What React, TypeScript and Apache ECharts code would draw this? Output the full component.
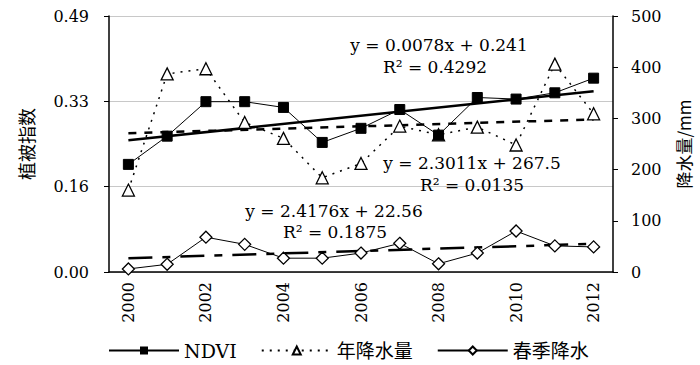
import React, { useEffect, useRef } from "react";
import * as echarts from "echarts";

const years = ["2000", "2001", "2002", "2003", "2004", "2005", "2006", "2007", "2008", "2009", "2010", "2011", "2012"];
const ndvi = [0.206, 0.26, 0.326, 0.326, 0.315, 0.248, 0.275, 0.311, 0.262, 0.334, 0.331, 0.343, 0.371];
const annualPrecip = [160, 387, 397, 292, 261, 184, 212, 285, 268, 283, 248, 406, 309];
const springPrecip = [6, 15, 68, 54, 27, 27, 37, 56, 16, 37, 80, 51, 49];

// trend line end values (first and last year)
const ndviTrendEnds = [0.252, 0.346];
const annualTrendEnds = [271, 298];
const springTrendEnds = [27, 55];

const leftTicks = [0, 0.49];
const rightTicks = [0, 500, 100];

const equations = [
  "y = 0.0078x + 0.241",
  "R² = 0.4292",
  "y = 2.3011x + 267.5",
  "R² = 0.0135",
  "y = 2.4176x + 22.56",
  "R² = 0.1875",
];

const serif = "'DejaVu Serif', 'Noto Sans CJK SC', serif";

function ends(e: number[]) {
  return years.map((_, i) => (i === 0 ? e[0] : i === years.length - 1 ? e[1] : null));
}

export default function App() {
  const ref = useRef<HTMLDivElement>(null);
  useEffect(() => {
    document.body.style.margin = "0";
    const chart = echarts.init(ref.current!, null, { renderer: "svg" });
    const eqPos = [
      [439, 45],
      [435, 67],
      [472, 163],
      [472, 185],
      [334, 211],
      [335, 232],
    ];
    chart.setOption({
      animation: false,
      backgroundColor: "#fff",
      grid: { left: 109, right: 83, top: 16, bottom: 93 },
      legend: {
        data: ["NDVI", "年降水量", "春季降水"],
        left: 108,
        top: 341,
        padding: 0,
        itemWidth: 70,
        itemHeight: 10,
        itemGap: 24,
        textStyle: { fontFamily: serif, fontSize: 19, color: "#000" },
      },
      xAxis: {
        type: "category",
        data: years,
        boundaryGap: true,
        axisLine: { lineStyle: { color: "#000", width: 1.5 } },
        axisTick: { inside: true, length: 5, interval: 0, lineStyle: { color: "#000" } },
        axisLabel: { interval: 1, rotate: 90, margin: 10, fontFamily: serif, fontSize: 16, color: "#000" },
        splitLine: { show: false },
      },
      yAxis: [
        {
          type: "value",
          min: leftTicks[0],
          max: leftTicks[1],
          interval: leftTicks[1] / 3,
          name: "植被指数",
          nameLocation: "middle",
          nameRotate: 90,
          nameGap: 74,
          nameTextStyle: { fontFamily: "'Noto Sans CJK SC'", fontSize: 18, color: "#000" },
          axisLine: { show: true, lineStyle: { color: "#000", width: 1.5 } },
          axisTick: { show: true, length: 5, lineStyle: { color: "#000" } },
          axisLabel: {
            margin: 20,
            fontFamily: serif,
            fontSize: 16,
            color: "#000",
            formatter: (v: number) => v.toFixed(2),
          },
          splitLine: { show: true, lineStyle: { color: "#c8c8c8", width: 1 } },
        },
        {
          type: "value",
          min: rightTicks[0],
          max: rightTicks[1],
          interval: rightTicks[2],
          name: "降水量/mm",
          nameLocation: "middle",
          nameRotate: 90,
          nameGap: 62,
          nameTextStyle: { fontFamily: "'Noto Sans CJK SC'", fontSize: 17, color: "#000" },
          axisLine: { show: true, lineStyle: { color: "#000", width: 1.5 } },
          axisTick: { show: true, length: 5, lineStyle: { color: "#000" } },
          axisLabel: { margin: 18, fontFamily: serif, fontSize: 16, color: "#000" },
          splitLine: { show: false },
        },
      ],
      series: [
        {
          name: "NDVI",
          type: "line",
          yAxisIndex: 0,
          data: ndvi,
          symbol: "rect",
          symbolSize: 10,
          itemStyle: { color: "#000", borderColor: "#000" },
          lineStyle: { color: "#000", width: 1 },
          z: 5,
        },
        {
          name: "年降水量",
          type: "line",
          yAxisIndex: 1,
          data: annualPrecip,
          symbol: "triangle",
          symbolSize: 12,
          itemStyle: { color: "#fff", borderColor: "#000", borderWidth: 1.3 },
          lineStyle: { color: "#000", width: 1.5, type: [2, 6] },
          z: 4,
        },
        {
          name: "春季降水",
          type: "line",
          yAxisIndex: 1,
          data: springPrecip,
          symbol: "diamond",
          symbolSize: 12,
          itemStyle: { color: "#fff", borderColor: "#000", borderWidth: 1.3 },
          lineStyle: { color: "#000", width: 1 },
          z: 4,
        },
        {
          name: "NDVI趋势",
          type: "line",
          yAxisIndex: 0,
          data: ends(ndviTrendEnds),
          connectNulls: true,
          showSymbol: false,
          symbol: "none",
          lineStyle: { color: "#000", width: 2.5 },
          z: 3,
        },
        {
          name: "年降水量趋势",
          type: "line",
          yAxisIndex: 1,
          data: ends(annualTrendEnds),
          connectNulls: true,
          showSymbol: false,
          symbol: "none",
          lineStyle: { color: "#000", width: 2.5, type: [8, 8] },
          z: 3,
        },
        {
          name: "春季降水趋势",
          type: "line",
          yAxisIndex: 1,
          data: ends(springTrendEnds),
          connectNulls: true,
          showSymbol: false,
          symbol: "none",
          lineStyle: { color: "#000", width: 2.5, type: [24, 10, 8, 10] },
          z: 3,
        },
      ],
      graphic: equations.map((t, i) => ({
        type: "text",
        x: eqPos[i][0],
        y: eqPos[i][1],
        z: 10,
        style: {
          text: t,
          fontFamily: serif,
          fontSize: 17,
          fill: "#000",
          align: "center",
          verticalAlign: "middle",
        },
      })),
    });
    return () => chart.dispose();
  }, []);
  return <div ref={ref} style={{ width: 700, height: 365 }} />;
}
